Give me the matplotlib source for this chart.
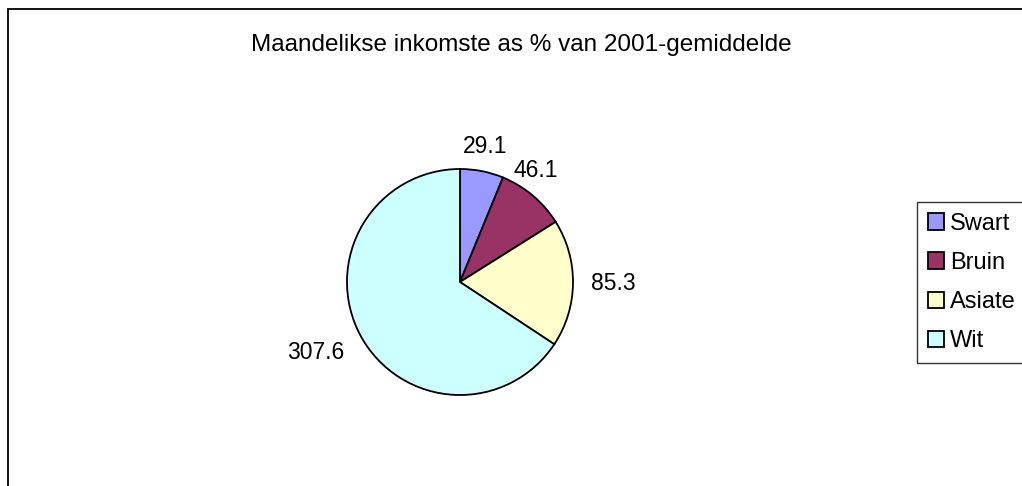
import numpy as np
import matplotlib.pyplot as plt
from matplotlib.patches import Rectangle

plt.rcParams['font.family'] = ['Liberation Sans', 'DejaVu Sans']

# Data
groepe = ['Swart', 'Bruin', 'Asiate', 'Wit']
waardes = [29.1, 46.1, 85.3, 307.6]
kleure = ['#9999FF', '#993366', '#FFFFCC', '#CCFFFF']
titel = 'Maandelikse inkomste as % van 2001-gemiddelde'

W, H = 1022, 486
fig = plt.figure(figsize=(W / 100, H / 100), dpi=100)

# outer chart border (only left/top visible)
fig.patches.append(Rectangle((8 / W, -0.1), 1.2, (H - 9) / H + 0.1,
                             transform=fig.transFigure, fill=False,
                             edgecolor='black', linewidth=1.3))

fig.text(521 / W, 1 - 45 / H, titel, ha='center', va='center', fontsize=17.5)

# pie axes: centre (460, 282), radius 113 px
cx, cy, r = 460, 282, 113
ax = fig.add_axes([(cx - r) / W, (H - cy - r) / H, 2 * r / W, 2 * r / H])
wedges, _ = ax.pie(waardes, colors=kleure, startangle=90, counterclock=False,
                   wedgeprops=dict(edgecolor='black', linewidth=1.3))
ax.set_xlim(-1, 1)
ax.set_ylim(-1, 1)
ax.set_aspect('equal')
ax.axis('off')

# value labels just outside the rim
gap = 0.16
for w, v in zip(wedges, waardes):
    mid = np.deg2rad((w.theta1 + w.theta2) / 2)
    dx, dy = np.cos(mid), np.sin(mid)
    ha = 'left' if dx > 0.7 else ('right' if dx < -0.7 else 'center')
    va = 'bottom' if dy > 0.5 else ('top' if dy < -0.5 else 'center')
    if va == 'center':
        tx, ty = dx * (1 + gap), dy * (1 + gap + 0.15)
    else:
        tx, ty = dx + 0.03, dy + 0.12 * np.sign(dy)
    ax.text(tx, ty, f'{v:.1f}', ha=ha, va=va, fontsize=16.5, clip_on=False)

leg = fig.legend(wedges, groepe, loc='upper left',
                 bbox_to_anchor=(917 / W, 1 - 202 / H), frameon=True,
                 fancybox=False, fontsize=17, handlelength=0.7,
                 handleheight=0.7, handletextpad=0.25, labelspacing=0.73,
                 borderpad=0.45, borderaxespad=0)
leg.get_frame().set_edgecolor('black')
leg.get_frame().set_linewidth(1.0)

fig.savefig('out.png', dpi=100)
